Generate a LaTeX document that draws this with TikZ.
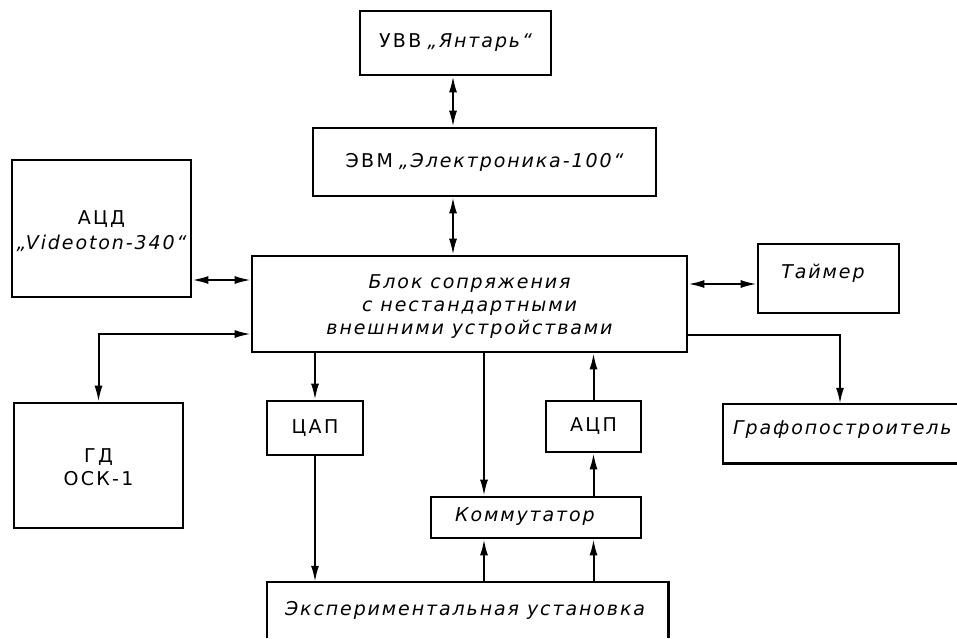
\documentclass[tikz,border=0pt]{standalone}
\usepackage{fontspec}
\setmainfont{DejaVu Sans}
\newfontfamily\upfnt[LetterSpace=12]{DejaVu Sans}
\newfontfamily\itfnt[LetterSpace=10]{DejaVu Sans}
\newcommand\txtU[1]{{\upfnt #1}}
\newcommand\txtI[1]{{\itfnt\itshape #1}}
\usetikzlibrary{arrows.meta}
\begin{document}
\begin{tikzpicture}[x=1pt,y=-1pt,
  box/.style={draw, line width=2.6pt, inner sep=0pt, align=center, font=\fontsize{19}{23}\selectfont},
  plain/.style={inner sep=0pt, align=center, font=\fontsize{19}{23}\selectfont},
  conn/.style={line width=2pt},
  >={Latex[length=16pt,width=8pt]}]
\useasboundingbox (0,0) rectangle (957,638);

% boxes
\node[box, minimum width=191pt, minimum height=64pt] (uvv) at (455.5,43) {\txtU{УВВ} \txtI{„Янтарь“}};
\node[box, minimum width=343pt, minimum height=68pt] (evm) at (484.5,162) {\txtU{ЭВМ} \txtI{„Электроника-100“}};
\node[box, minimum width=179pt, minimum height=137pt] (acd) at (101.5,228.5) {};
\node[plain] (acdt) at (101.5,231) {\txtU{АЦД}\\[2pt]\txtI{„Videoton-340“}};
\node[box, minimum width=435pt, minimum height=96pt] (blok) at (469.5,304) {};
\node[plain] (blokt) at (469.5,307) {\txtI{Блок сопряжения}\\\txtI{с нестандартными}\\\txtI{внешними устройствами}};
\node[box, minimum width=141pt, minimum height=69pt] (timer) at (828.5,278.5) {};
\node[plain, anchor=center] (timert) at (823,273) {\txtI{Таймер}};
\node[box, minimum width=169pt, minimum height=125pt] (gd) at (98.5,465.5) {};
\node[plain] (gdt) at (98.5,467) {\txtU{ГД}\\\txtU{ОСК-1}};
\node[box, minimum width=96pt, minimum height=54pt] (cap) at (315,428) {\txtU{ЦАП}};
\node[box, minimum width=95pt, minimum height=51pt] (acp) at (593.5,426.5) {\txtU{АЦП}};
\node[box, minimum width=210pt, minimum height=41pt] (komm) at (536,517.5) {};
\node[plain] (kommt) at (525,517) {\txtI{Коммутатор}};

% open boxes (cut by the page edge)
\node[inner sep=0pt, minimum width=234pt, minimum height=59pt] (graf) at (840,433.5) {};
\draw[line width=2.6pt] (graf.north east) -- (graf.north west) -- (graf.south west) -- (graf.south east);
\node[plain, anchor=west] (graft) at (733,430) {\txtI{Графопостроитель}};

\node[inner sep=0pt, minimum width=401pt, minimum height=56pt] (exp) at (467.5,610) {};
\draw[line width=2.6pt] (exp.south west) -- (exp.north west) -- (exp.north east) -- (exp.south east);
\node[plain] (expt) at (465,610) {\txtI{Экспериментальная установка}};

% connectors
\draw[conn,<->] (453,0 |- uvv.south) -- (453,0 |- evm.north);
\draw[conn,<->] (453,0 |- evm.south) -- (453,0 |- blok.north);
\draw[conn,<->] (acd.east |- 0,280) -- (blok.west |- 0,280);
\draw[conn,<->] (blok.east |- 0,284) -- (timer.west |- 0,284);
\draw[conn,<->] (blok.west |- 0,334) -| (gd.north);
\draw[conn,->] (blok.east |- 0,335) -| (graf.north);
\draw[conn,->] (cap.north |- blok.south) -- (cap.north);
\draw[conn,->] (cap.south) -- (cap.south |- exp.north);
\draw[conn,->] (484,0 |- blok.south) -- (484,0 |- komm.north);
\draw[conn,->] (484,0 |- exp.north) -- (484,0 |- komm.south);
\draw[conn,->] (acp.south |- exp.north) -- (acp.south |- komm.south);
\draw[conn,->] (acp.south |- komm.north) -- (acp.south);
\draw[conn,->] (acp.north) -- (acp.north |- blok.south);
\end{tikzpicture}
\end{document}
